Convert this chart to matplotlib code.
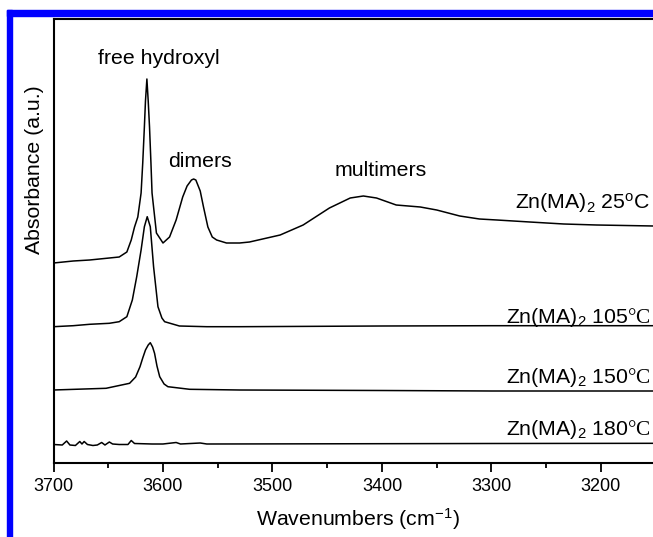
import matplotlib
matplotlib.use("Agg")
import matplotlib.pyplot as plt
from matplotlib.patches import Rectangle

plt.rcParams['font.family'] = ['Liberation Sans', 'DejaVu Sans']
plt.rcParams['mathtext.fontset'] = 'custom'
plt.rcParams['mathtext.rm'] = 'Liberation Serif'
plt.rcParams['mathtext.sf'] = 'Liberation Sans'
plt.rcParams['mathtext.it'] = 'Liberation Sans:italic'
plt.rcParams['mathtext.bf'] = 'Liberation Sans:bold'

# ---- data (wavenumber cm^-1, absorbance a.u., stacked offsets included) ----
wn_25 = [3700, 3682, 3667, 3649, 3640, 3633, 3629, 3626, 3623, 3620, 3618.5, 3617,
         3616, 3614.7, 3613.5, 3612.3, 3611, 3610, 3606, 3600, 3594, 3588, 3582,
         3578, 3574, 3572, 3570, 3566, 3563, 3559, 3555, 3551, 3542, 3530, 3521,
         3493, 3472, 3448, 3429, 3417, 3405, 3387, 3365, 3350, 3329, 3311, 3295,
         3265, 3234, 3204, 3152, 3140]
ab_25 = [2.00, 2.02, 2.03, 2.05, 2.06, 2.11, 2.23, 2.36, 2.46, 2.70, 3.00, 3.36,
         3.62, 3.84, 3.62, 3.36, 3.00, 2.70, 2.30, 2.20, 2.26, 2.43, 2.66,
         2.77, 2.83, 2.84, 2.83, 2.72, 2.56, 2.36, 2.26, 2.23, 2.20, 2.20, 2.21,
         2.28, 2.38, 2.55, 2.65, 2.67, 2.65, 2.58, 2.56, 2.53, 2.47, 2.44, 2.43,
         2.41, 2.39, 2.38, 2.37, 2.37]

wn_105 = [3700, 3682, 3667, 3649, 3640, 3633, 3628, 3624, 3620, 3617, 3614.4,
          3611.6, 3608.6, 3604.6, 3601, 3598.5, 3585, 3560, 3530, 3400, 3300, 3152, 3140]
ab_105 = [1.363, 1.373, 1.387, 1.397, 1.413, 1.463, 1.63, 1.863, 2.13, 2.363, 2.463,
          2.363, 1.963, 1.563, 1.45, 1.413, 1.37, 1.363, 1.363, 1.37, 1.373, 1.373, 1.373]

wn_150 = [3700, 3652, 3630.5, 3625, 3621, 3618.5, 3616, 3613.5, 3611.6, 3609.5,
          3607.7, 3605.5, 3603, 3599, 3595.5, 3575.7, 3530, 3400, 3300, 3140]
ab_150 = [0.73, 0.747, 0.797, 0.86, 0.963, 1.05, 1.13, 1.18, 1.203, 1.16,
          1.097, 0.97, 0.863, 0.79, 0.763, 0.737, 0.73, 0.725, 0.72, 0.72]

wn_180 = [3700, 3692, 3688, 3685, 3680, 3676, 3674, 3672, 3669, 3664, 3660, 3656,
          3653, 3649, 3646, 3640, 3632, 3629, 3626, 3610, 3600, 3588, 3584, 3566,
          3560, 3450, 3300, 3140]
ab_180 = [0.185, 0.18, 0.22, 0.18, 0.175, 0.215, 0.19, 0.215, 0.185, 0.175, 0.18, 0.205,
          0.18, 0.21, 0.19, 0.185, 0.185, 0.225, 0.195, 0.19, 0.19, 0.205, 0.19, 0.2,
          0.19, 0.192, 0.195, 0.197]

series_labels = [r'Zn(MA)$_\mathsf{2}$ 25$^\mathsf{o}$C',
                 r'Zn(MA)$_\mathsf{2}$ 105$\mathrm{°C}$',
                 r'Zn(MA)$_\mathsf{2}$ 150$\mathrm{°C}$',
                 r'Zn(MA)$_\mathsf{2}$ 180$\mathrm{°C}$']
label_y = [2.54, 1.40, 0.80, 0.28]

peak_names = ['free hydroxyl', 'dimers', 'multimers']
peak_pos = [(3604, 3.99), (3566, 2.96), (3401, 2.87)]

W, H = 653, 537
fig = plt.figure(figsize=(W / 100, H / 100), dpi=100)

# blue selection frame
fig.patches.append(Rectangle((7 / W, 0), 5 / W, 1 - 10 / H, transform=fig.transFigure,
                             color='#0000ff', zorder=0))
fig.patches.append(Rectangle((7 / W, 1 - 16 / H), 1, 6 / H, transform=fig.transFigure,
                             color='#0000ff', zorder=0))

left, right, top, bottom = 53.5, 663, 19, 463
ax = fig.add_axes([left / W, 1 - bottom / H, (right - left) / W, (bottom - top) / H])
ax.set_xlim(3700, 3700 - (right - 54) / 1.094)
ax.set_ylim(0, 4.44)

for wn, ab in [(wn_25, ab_25), (wn_105, ab_105), (wn_150, ab_150), (wn_180, ab_180)]:
    ax.plot(wn, ab, color='black', lw=1.1)

for lab, yv in zip(series_labels, label_y):
    ax.text(0.979, yv, lab, transform=ax.get_yaxis_transform(), ha='right',
            va='baseline', fontsize=15.3)

for name, (xp, yp) in zip(peak_names, peak_pos):
    ax.text(xp, yp, name, ha='center', va='baseline', fontsize=15.3)

ax.set_xticks([3700, 3600, 3500, 3400, 3300, 3200])
ax.set_xticks([3650, 3550, 3450, 3350, 3250, 3150], minor=True)
ax.set_yticks([])
ax.tick_params(axis='x', which='major', direction='out', length=6.8, width=1.3,
               labelsize=13, pad=4)
ax.tick_params(axis='x', which='minor', direction='out', length=3.6, width=1.3)
for s in ax.spines.values():
    s.set_linewidth(1.5)

ax.set_xlabel(r'Wavenumbers (cm$^{\mathsf{-1}}$)', fontsize=15.3, labelpad=8)
fig.text(35 / W, 1 - 170 / H, 'Absorbance (a.u.)', rotation=90, ha='center',
         va='center', fontsize=15.3)

fig.savefig('out.png', dpi=100)
